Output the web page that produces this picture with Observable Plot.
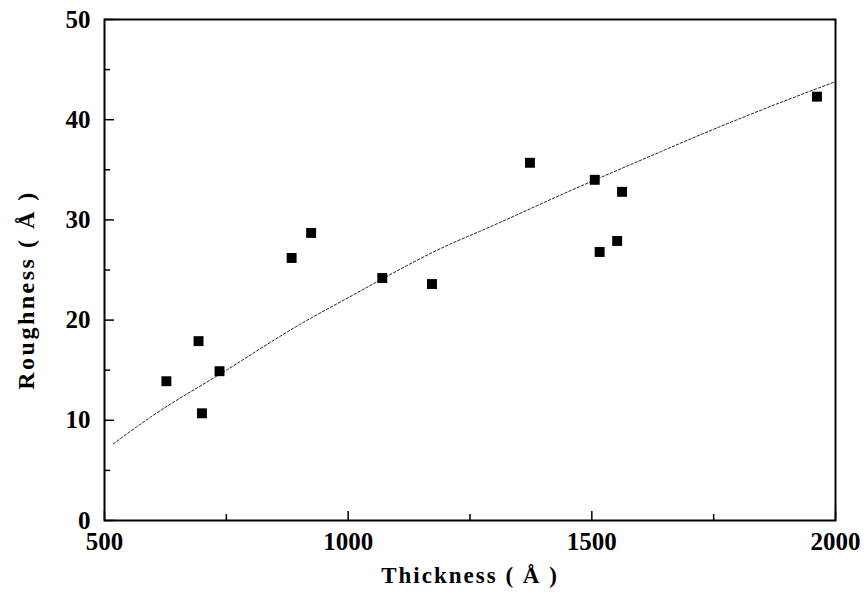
<!DOCTYPE html>
<html>
<head>
<meta charset="utf-8">
<script src="https://cdn.jsdelivr.net/npm/d3@7"></script>
<script src="https://cdn.jsdelivr.net/npm/@observablehq/plot@0.6"></script>
<style>
  html, body { margin: 0; padding: 0; background: #fff; }
  svg text { font-family: "Liberation Serif", serif; font-weight: bold; fill: #000; }
</style>
</head>
<body>
<div id="chart"></div>
<script>
// Measured points
const thickness = [627, 693, 700, 736, 884, 924, 1070, 1172, 1373, 1506, 1516, 1552, 1562, 1962];
const roughness = [13.9, 17.9, 10.7, 14.9, 26.2, 28.7, 24.2, 23.6, 35.7, 34.0, 26.8, 27.9, 32.8, 42.3];

// Fit curve (dashed)
const fitX = [518, 594, 750, 902, 995, 1210, 1272, 1460, 1641, 1723, 1860, 2000];
const fitY = [7.65, 10.3, 15.0, 19.6, 22.1, 27.6, 28.9, 33.0, 36.8, 38.5, 41.2, 43.8];

// Ticks
const xMajor = [500, 1000, 1500, 2000];
const xMinor = [750, 1250, 1750];
const yMajor = [0, 10, 20, 30, 40, 50];
const yMinor = [5, 15, 25, 35, 45];

const points = thickness.map((t, i) => ({t, r: roughness[i]}));
const fit = fitX.map((x, i) => ({x, y: fitY[i]}));

const W = 867, H = 605, ML = 104, MR = 32, MT = 19, MB = 85;
const FW = W - ML - MR, FH = H - MT - MB;

const chart = Plot.plot({
  width: W,
  height: H,
  marginLeft: ML,
  marginRight: MR,
  marginTop: MT,
  marginBottom: MB,
  x: {domain: [500, 2000], axis: null},
  y: {domain: [0, 50], axis: null},
  style: {fontFamily: "Liberation Serif", background: "#fff", color: "#000"},
  marks: [
    Plot.line(fit, {x: "x", y: "y", stroke: "#222", strokeWidth: 1, strokeDasharray: "2.5,2", curve: "monotone-x"}),
    Plot.dot(points, {x: "t", y: "r", symbol: "square", r: 5.6, fill: "#000", stroke: "none"}),
    // inward ticks
    Plot.ruleX(xMajor, {x: d => d, insetTop: FH - 9, stroke: "#000", strokeWidth: 1.5}),
    Plot.ruleX(xMinor, {x: d => d, insetTop: FH - 6, stroke: "#000", strokeWidth: 1.5}),
    Plot.ruleY(yMajor, {y: d => d, insetRight: FW - 10, stroke: "#000", strokeWidth: 1.5}),
    Plot.ruleY(yMinor, {y: d => d, insetRight: FW - 6, stroke: "#000", strokeWidth: 1.5}),
    Plot.frame({stroke: "#000", strokeWidth: 2}),
    // tick labels
    Plot.text(xMajor, {x: d => d, frameAnchor: "bottom", lineAnchor: "top", dy: 12, text: d => String(d), textAnchor: "middle"}),
    Plot.text(yMajor, {y: d => d, frameAnchor: "left", dx: -14, text: d => String(d), textAnchor: "end"}),
    // titles
    Plot.text(["Thickness ( Å )"], {frameAnchor: "bottom", dy: 62, text: d => d, textAnchor: "middle"}),
    Plot.text(["Roughness ( Å )"], {frameAnchor: "left", dx: -78, dy: 20, rotate: -90, textAnchor: "middle", text: d => d})
  ]
});

chart.querySelectorAll("text").forEach(t => {
  const s = t.textContent.trim();
  if (s.startsWith("Thickness")) {
    t.setAttribute("font-size", "23");
    t.style.fontSize = "23px";
    t.setAttribute("letter-spacing", "2");
  } else if (s.startsWith("Roughness")) {
    t.setAttribute("font-size", "24");
    t.style.fontSize = "24px";
    t.setAttribute("letter-spacing", "2.5");
  } else if (/^\d+$/.test(s)) {
    t.setAttribute("font-size", "25");
    t.style.fontSize = "25px";
  }
});

document.getElementById("chart").appendChild(chart);
</script>
</body>
</html>
